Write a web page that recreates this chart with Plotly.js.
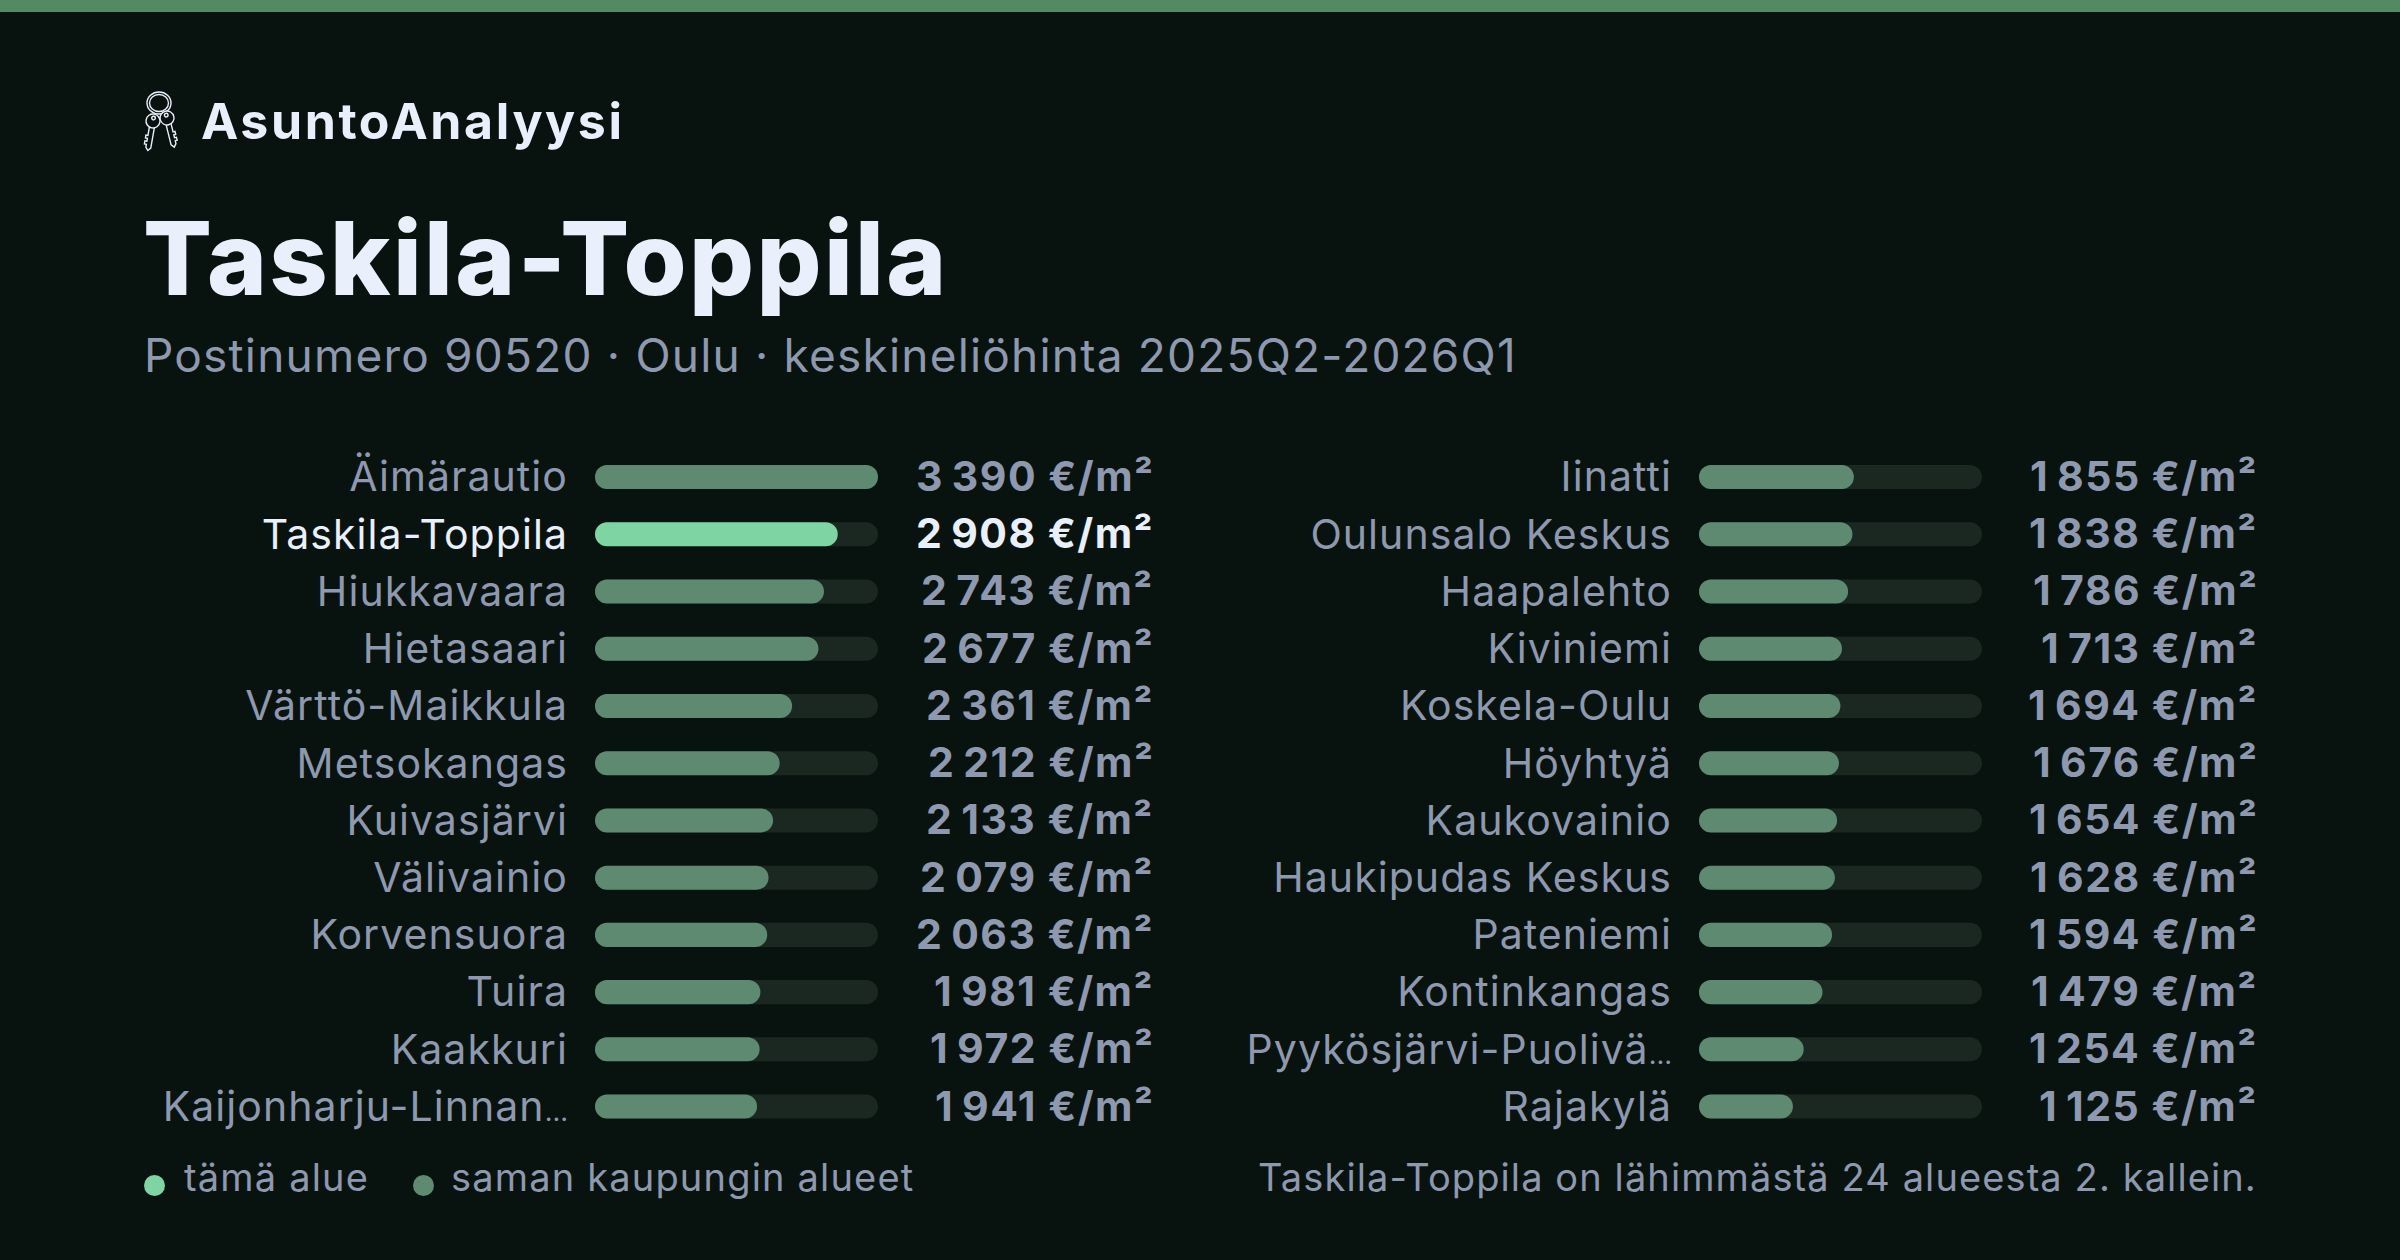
<!DOCTYPE html>
<html><head><meta charset="utf-8">
<script src="https://cdn.plot.ly/plotly-3.0.1.min.js"></script>
<style>html,body{margin:0;padding:0;background:#08130f}</style></head>
<body><div id="chart" style="width:2400px;height:1260px"></div>
<script>
var leftNames=["Äimärautio","Taskila-Toppila","Hiukkavaara","Hietasaari","Värttö-Maikkula","Metsokangas","Kuivasjärvi","Välivainio","Korvensuora","Tuira","Kaakkuri","Kaijonharju-Linnan…"];
var leftValues=[3390,2908,2743,2677,2361,2212,2133,2079,2063,1981,1972,1941];
var rightNames=["Iinatti","Oulunsalo Keskus","Haapalehto","Kiviniemi","Koskela-Oulu","Höyhtyä","Kaukovainio","Haukipudas Keskus","Pateniemi","Kontinkangas","Pyykösjärvi-Puolivä…","Rajakylä"];
var rightValues=[1855,1838,1786,1713,1694,1676,1654,1628,1594,1479,1254,1125];
var thisArea="Taskila-Toppila";
var maxValue=3390;
var FONT="Inter, 'Noto Sans', sans-serif";
var BG="#08130f",LIGHT="#eaf0fb",MUTED="#8e98ae",HI="#7fd4a4",BAR="#5f8a72",TRACK="#1a2821",BAND="#528a63";
var W=2400,H=1260;
function px(x){return x/W;} function py(y){return 1-y/H;}
function ls(text,em,color){return '<span style="letter-spacing:'+em+'em'+(color?';color:'+color:'')+'">'+text+'</span>';}
function fmt(v){var s=String(v);return s.slice(0,s.length-3)+"\u2009"+s.slice(-3)+"\u00a0€/m²";}
function label(n){
  var color=n===thisArea?LIGHT:null;
  if(n.slice(-1)==="…"){
    return ls(n.slice(0,-1),0.026,color)+'<span style="font-size:27px">…</span>';
  }
  return ls(n,0.026,color);
}
function trace(names,values,colors,xa,ya){
  // A base on a bar makes plotly round both of its ends.
  return {type:"bar",orientation:"h",y:names,x:values,base:names.map(function(){return 0;}),xaxis:xa,yaxis:ya,width:0.42,hoverinfo:"skip",showlegend:false,marker:{color:colors}};
}
function traces(names,values,xa,ya){
  return [trace(names,names.map(function(){return maxValue;}),TRACK,xa,ya),
          trace(names,values,names.map(function(n){return n===thisArea?HI:BAR;}),xa,ya)];
}
function yaxis(names,anchor){
  return {anchor:anchor,domain:[py(1135.2),py(448.4)],type:"category",autorange:false,range:[names.length-0.5,-0.5],
    categoryorder:"array",categoryarray:names,tickmode:"array",tickvals:names,
    ticktext:names.map(label),
    tickfont:{family:FONT,size:41,color:MUTED},ticks:"",ticklabelstandoff:26,showgrid:false,zeroline:false,showline:false};
}
function xaxis(a,b,anchor){
  return {anchor:anchor,domain:[px(a),px(b)],range:[0,maxValue],visible:false,fixedrange:true};
}
var annotations=[];
function txt(x,y,text,size,color,weight,anchor,em){
  annotations.push({xref:"paper",yref:"paper",x:px(x),y:py(y),text:ls(text,em),showarrow:false,xanchor:anchor||"left",yanchor:"middle",align:anchor||"left",borderpad:0,
    font:{family:FONT,size:size,color:color,weight:weight||400}});
}
function valueLabels(names,values,ya,xr){
  names.forEach(function(n,i){
    annotations.push({xref:"paper",yref:ya,x:px(xr),y:n,yshift:1,text:ls(fmt(values[i]),0.036),showarrow:false,xanchor:"right",yanchor:"middle",borderpad:0,
      font:{family:FONT,size:41,color:n===thisArea?LIGHT:MUTED,weight:700}});
  });
}
valueLabels(leftNames,leftValues,"y",1155);
valueLabels(rightNames,rightValues,"y2",2259);
txt(200,121,"AsuntoAnalyysi",50,LIGHT,700,"left",0.052);
txt(142,258,"Taskila-Toppila",102,LIGHT,800,"left",0.023);
txt(143,355,"Postinumero 90520 · Oulu · keskineliöhinta 2025Q2-2026Q1",46,MUTED,400,"left",0.026);
txt(183,1177,"tämä alue",38,MUTED,400,"left",0.031);
txt(450,1177,"saman kaupungin alueet",38,MUTED,400,"left",0.031);
txt(2258,1177,"Taskila-Toppila on lähimmästä 24 alueesta 2. kallein.",38,MUTED,400,"right",0.029);
var shapes=[
  {type:"rect",xref:"paper",yref:"paper",x0:0,x1:1,y0:py(12),y1:1,fillcolor:BAND,line:{width:0},layer:"below"},
  {type:"circle",xref:"paper",yref:"paper",x0:px(144),x1:px(165),y0:py(1196),y1:py(1175),fillcolor:HI,line:{width:0}},
  {type:"circle",xref:"paper",yref:"paper",x0:px(413),x1:px(434),y0:py(1196),y1:py(1175),fillcolor:BAR,line:{width:0}}
];
var keyPath="M-2.5 6.5L-2.5 27L0 30L2.5 27L2.5 24L4.5 24L4.5 21L2.5 21L2.5 18L4.5 18L4.5 15L2.5 15L2.5 6.5";
function keySvg(tx,ty,rot,flip){
  return '<g transform="translate('+tx+' '+ty+') rotate('+rot+') scale('+flip+' 1)"><path d="'+keyPath+'" fill="'+BG+'"/><circle r="7" fill="'+BG+'"/><circle cy="-3" r="1.8"/></g>';
}
var iconSvg='<svg xmlns="http://www.w3.org/2000/svg" viewBox="0 0 50 70" width="50" height="70"><g fill="none" stroke="'+LIGHT+'" stroke-width="1.4">'+
  '<ellipse cx="24" cy="18" rx="12" ry="11"/><ellipse cx="24" cy="18" rx="9.5" ry="8.5"/>'+
  keySvg(18,36,10,-1)+keySvg(32,33,-14,1)+'</g></svg>';
var images=[{source:"data:image/svg+xml;charset=utf-8,"+encodeURIComponent(iconSvg),xref:"paper",yref:"paper",x:px(135),y:py(85),sizex:50/W,sizey:70/H,xanchor:"left",yanchor:"top",sizing:"stretch",layer:"above"}];
var layout={width:W,height:H,margin:{l:0,r:0,t:0,b:0},paper_bgcolor:BG,plot_bgcolor:BG,showlegend:false,barmode:"overlay",barcornerradius:12,
  xaxis:xaxis(595,878,"y"),yaxis:yaxis(leftNames,"x"),xaxis2:xaxis(1699,1982,"y2"),yaxis2:yaxis(rightNames,"x2"),annotations:annotations,shapes:shapes,images:images};
Plotly.newPlot("chart",traces(leftNames,leftValues,"x","y").concat(traces(rightNames,rightValues,"x2","y2")),layout,{displayModeBar:false,staticPlot:true});
</script></body></html>
